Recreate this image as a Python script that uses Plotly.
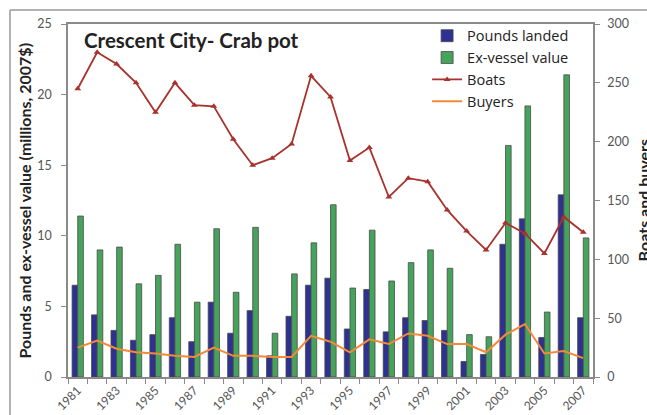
import plotly.graph_objects as go

# Crescent City crab pot fishery, 1981-2007
years = list(range(1981, 2008))

pounds_landed = [6.5, 4.4, 3.3, 2.6, 3.0, 4.2, 2.5, 5.3, 3.1, 4.7,
                 1.5, 4.3, 6.5, 7.0, 3.4, 6.2, 3.2, 4.2, 4.0, 3.3,
                 1.1, 1.6, 9.4, 11.2, 2.8, 12.9, 4.2]
exvessel_value = [11.4, 9.0, 9.2, 6.6, 7.2, 9.4, 5.3, 10.5, 6.0, 10.6,
                  3.1, 7.3, 9.5, 12.2, 6.3, 10.4, 6.8, 8.1, 9.0, 7.7,
                  3.0, 2.85, 16.4, 19.2, 4.6, 21.4, 9.85]
boats = [245, 276, 266, 250, 225, 250, 231, 230, 202, 180,
         186, 198, 256, 238, 184, 195, 153, 169, 166, 142,
         124, 108, 131, 122, 105, 136, 123]
buyers = [25, 31, 24, 21, 20, 18, 17, 25, 18, 18,
          17, 17, 35, 30, 21, 32, 28, 37, 35, 28,
          28, 21, 36, 45, 20, 22, 16]

odd_years = [y for y in years if y % 2 == 1]
odd_labels = [str(y) for y in odd_years]

FONT = "Lato, 'Open Sans', sans-serif"
LEGEND_FONT = "'Open Sans', Lato, sans-serif"
AXIS_GREY = "#8a8a8a"
TEXT_GREY = "#555555"

fig = go.Figure()

fig.add_trace(go.Bar(
    x=years, y=pounds_landed, name="Pounds landed",
    marker=dict(color="#2e3192", line=dict(color="#4a4a4a", width=0.8)),
))
fig.add_trace(go.Bar(
    x=years, y=exvessel_value, name="Ex-vessel value",
    marker=dict(color="#45a35c", line=dict(color="#4a4a4a", width=0.8)),
))
fig.add_trace(go.Scatter(
    x=years, y=boats, name="Boats", yaxis="y2", mode="lines+markers",
    line=dict(color="#a8322d", width=1.8),
    marker=dict(symbol="triangle-up", size=6, color="#a8322d"),
))
fig.add_trace(go.Scatter(
    x=years, y=buyers, name="Buyers", yaxis="y2", mode="lines",
    line=dict(color="#f5893a", width=2),
))

fig.update_layout(
    width=647, height=415,
    margin=dict(l=68, r=54, t=24, b=38),
    paper_bgcolor="white", plot_bgcolor="white",
    font=dict(family=FONT, color=TEXT_GREY, size=12),
    barmode="group", bargap=0.42, bargroupgap=0,
    showlegend=True,
    legend=dict(
        x=0.684, y=1.012, xanchor="left", yanchor="top",
        bgcolor="rgba(0,0,0,0)",
        font=dict(family=LEGEND_FONT, size=14.5, color="#222222"),
        itemwidth=30, tracegroupgap=0,
    ),
    xaxis=dict(
        range=[1980.5, 2007.5], automargin=False,
        tickmode="array", tickvals=odd_years, ticktext=odd_labels,
        ticks="", tickangle=-45,
        tickfont=dict(size=12, color=TEXT_GREY),
        showgrid=False, zeroline=False,
        showline=True, linecolor=AXIS_GREY, linewidth=1.5, mirror=True,
        minor=dict(tick0=1980.5, dtick=1, ticks="outside", ticklen=5,
                   tickcolor=AXIS_GREY, tickwidth=1, showgrid=False),
    ),
    yaxis=dict(
        range=[0, 25], dtick=5, ticks="outside", ticklen=5, automargin=False,
        tickcolor=AXIS_GREY, tickfont=dict(size=12.5, color=TEXT_GREY),
        ticklabelstandoff=7,
        showgrid=False, zeroline=False,
        showline=True, linecolor=AXIS_GREY, linewidth=1.5,
    ),
    yaxis2=dict(
        range=[0, 300], dtick=50, overlaying="y", side="right",
        automargin=False,
        ticks="outside", ticklen=5, tickcolor=AXIS_GREY,
        tickfont=dict(size=12.5, color=TEXT_GREY),
        ticklabelstandoff=5,
        showgrid=False, zeroline=False,
        showline=True, linecolor=AXIS_GREY, linewidth=1.5,
    ),
)

# chart title inside the plot area
fig.add_annotation(
    text="<b>Crescent City- Crab pot</b>", xref="paper", yref="paper",
    x=0.026, y=0.955, xanchor="left", yanchor="middle", showarrow=False,
    font=dict(family=FONT, size=20.5, color="#222222"),
)
# left axis title
fig.add_annotation(
    text="<b>Pounds and ex-vessel value (millions, 2007$)</b>",
    xref="paper", yref="paper", x=-0.082, y=0.5, textangle=-90,
    xanchor="center", yanchor="middle", showarrow=False,
    font=dict(family=FONT, size=16, color="#222222"),
)
# right axis title
fig.add_annotation(
    text="<b>Boats and buyers</b>",
    xref="paper", yref="paper", x=1.097, y=0.5, textangle=-90,
    xanchor="center", yanchor="middle", showarrow=False,
    font=dict(family=FONT, size=16, color="#222222"),
)

# outer frame lines at the top and left of the figure
fig.add_shape(type="line", xref="paper", yref="paper",
              x0=-0.1105, x1=-0.1105, y0=-0.2, y1=1.0397,
              line=dict(color="#999999", width=1.5))
fig.add_shape(type="line", xref="paper", yref="paper",
              x0=-0.1105, x1=1.2, y0=1.0397, y1=1.0397,
              line=dict(color="#999999", width=1.5))

fig.write_html("out.html")
